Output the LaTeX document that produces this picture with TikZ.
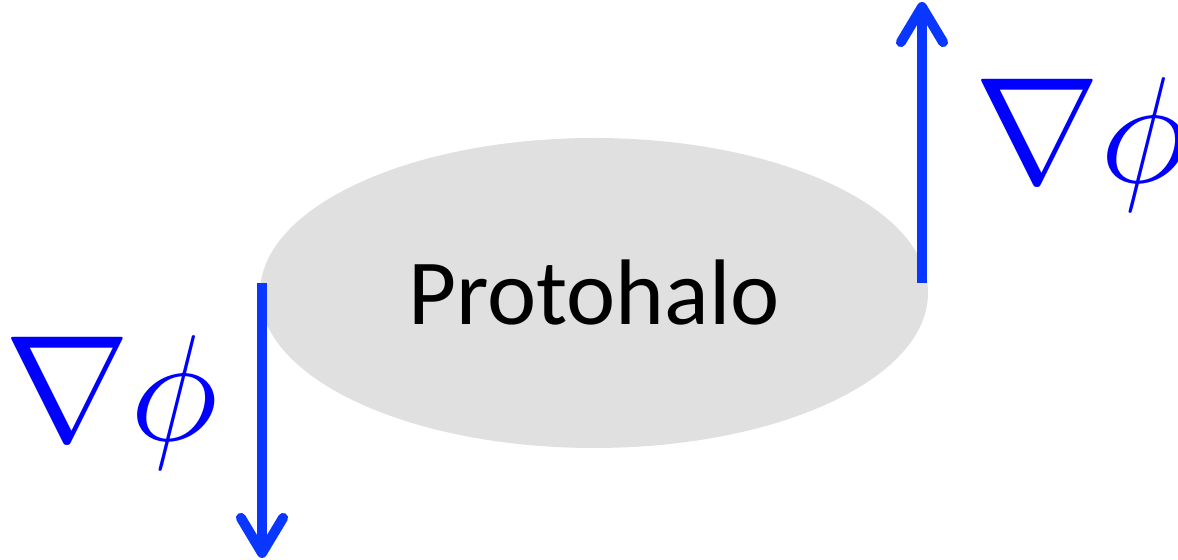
\RequirePackage{fix-cm}
\documentclass[tikz,border=0pt]{standalone}
\usepackage{fontspec}
\newfontfamily\labelfont{Carlito}
\usetikzlibrary{arrows.meta,shapes.geometric}
\definecolor{halogray}{HTML}{E0E0E0}
\definecolor{arrowblue}{HTML}{0A37FF}
\newlength{\px}
\setlength{\px}{0.02cm}
\tikzset{
  halo/.style={ellipse, fill=halogray, minimum width=668\px, minimum height=310\px, inner sep=0pt, font=\labelfont\fontsize{53}{60}\selectfont},
  grad/.style={line width=10\px, arrowblue, -{Straight Barb[length=20pt,width=24pt,line cap=round,line join=round]}},
  gradlabel/.style={text=blue, font=\fontsize{86}{90}\selectfont, inner sep=0pt}
}
\begin{document}
\begin{tikzpicture}[x=0.02cm,y=-0.02cm]
\useasboundingbox (0,0) rectangle (1178,560);
\node[halo] (halo) at (594,293) {\raisebox{-4\px}{Protohalo}};
\coordinate (lstart) at (262,283);
\coordinate (lend) at (262,558);
\coordinate (rstart) at (922,283);
\coordinate (rend) at (922,2);
\draw[grad] (lstart) -- (lend);
\draw[grad] (rstart) -- (rend);
\node[gradlabel] (llab) at (111,403) {$\nabla\phi$};
\node[gradlabel] (rlab) at (1081,145) {$\nabla\phi$};
\end{tikzpicture}
\end{document}
